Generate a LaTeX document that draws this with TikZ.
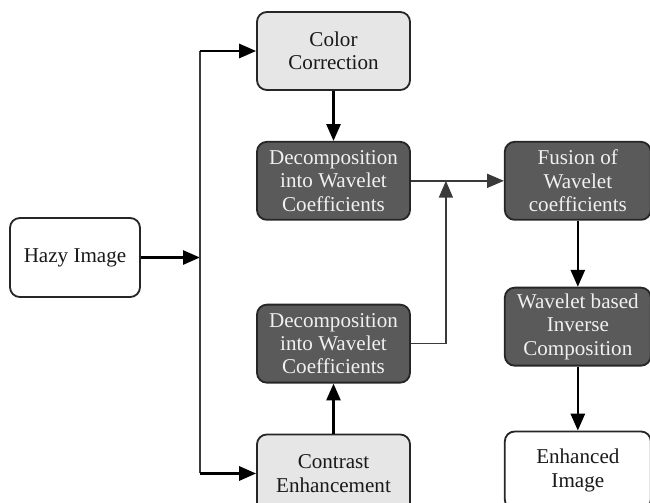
\documentclass[tikz,border=0pt]{standalone}
\usepackage{fontspec}
\setmainfont{Liberation Serif}
\usepackage{xcolor}
\usetikzlibrary{arrows.meta,positioning}
\definecolor{lightbox}{HTML}{E6E6E6}
\definecolor{darkbox}{HTML}{5A5A5A}
\definecolor{linegray}{HTML}{3A3A3A}

\begin{document}
\begin{tikzpicture}[
    box/.style={draw=black!85, line width=1.3pt, rounded corners=7pt, align=center,
      minimum width=3.825cm, minimum height=1.95cm, inner sep=2pt,
      font=\fontsize{15}{16.6}\selectfont},
    lightstep/.style={box, fill=lightbox, text=black!90},
    darkstep/.style={box, fill=darkbox, text=white!94!black},
    whitestep/.style={box, fill=white, text=black!90},
    arr/.style={line width=1.8pt, -{Triangle[length=12pt,width=10pt]}},
    thinarr/.style={line width=1.1pt, draw=linegray, -{Triangle[length=12pt,width=10pt]}},
    thinline/.style={line width=1.1pt, draw=linegray}
  ]
  \useasboundingbox (0,0) rectangle (16.25,-12.55);
  \clip (0,0) rectangle (16.25,-12.55);

  % left input and the two branches
  \node (hazy)[whitestep, minimum width=3.25cm, minimum height=1.975cm] at (1.875,-6.4375) {Hazy Image};
  \node (color)[lightstep] at (8.3375,-1.275) {Color\\Correction};
  \node (dectop)[darkstep, below=1.25cm of color] {Decomposition\\into Wavelet\\Coefficients};
  \node (decbot)[darkstep, below=2.075cm of dectop] {Decomposition\\into Wavelet\\Coefficients};
  \node (contrast)[lightstep, below=1.25cm of decbot] {Contrast\\Enhancement};

  % right column
  \node (fusion)[darkstep, minimum width=3.65cm, right=2.325cm of dectop] {Fusion of\\Wavelet\\coefficients};
  \node (inverse)[darkstep, minimum width=3.65cm, below=1.65cm of fusion] {Wavelet based\\Inverse\\Composition};
  \node (enhanced)[whitestep, minimum width=3.65cm, below=1.6cm of inverse] {Enhanced\\Image};

  \coordinate[right=1.475cm of hazy.east] (split);
  \coordinate[right=0.875cm of dectop.east] (merge);

  \draw[arr] (hazy.east) -- (split);
  \draw[thinline] (split |- color.west) -- (split |- contrast.west);
  \draw[arr] (split |- color.west) -- (color.west);
  \draw[arr] (split |- contrast.west) -- (contrast.west);

  \draw[arr] (color) -- (dectop);
  \draw[arr] (contrast) -- (decbot);
  \draw[thinarr] (dectop) -- (fusion);
  \draw[thinarr] (decbot) -| (merge);
  \draw[arr] (fusion) -- (inverse);
  \draw[arr] (inverse) -- (enhanced);
\end{tikzpicture}
\end{document}
